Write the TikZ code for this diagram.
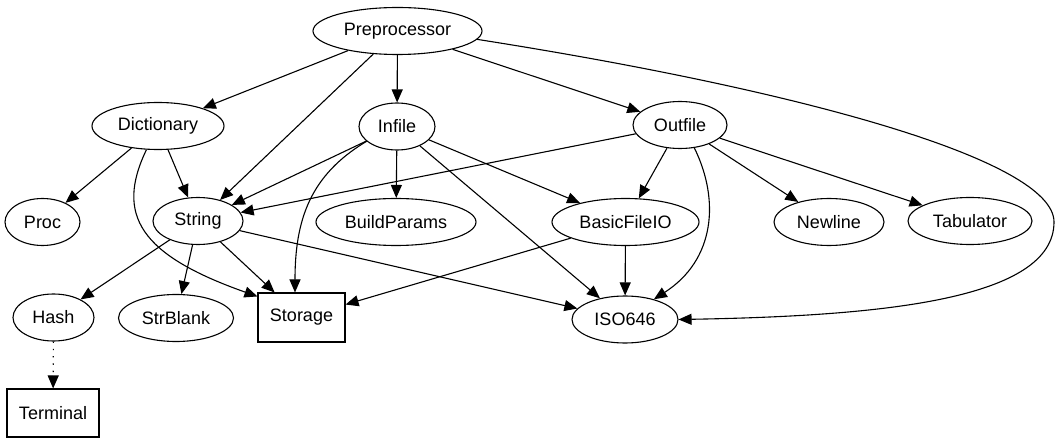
\documentclass[tikz,border=0pt]{standalone}
\usepackage{fontspec}
\setmainfont{Liberation Sans}
\usetikzlibrary{shapes,arrows.meta,positioning,calc}

\begin{document}
\begin{tikzpicture}[x=1pt,y=1pt,
	oval/.style={draw,ellipse,line width=1.1pt,minimum height=47pt,inner sep=0pt,font=\fontsize{18}{21}\selectfont},
	box/.style={draw,rectangle,line width=1.1pt,inner sep=0pt,font=\fontsize{18}{21}\selectfont},
	dep/.style={line width=1.1pt,-{Triangle[length=13pt,width=11pt]}}]
	\useasboundingbox (0,0) rectangle (1059,-443);
	\node[oval,minimum width=169pt] (pre) at (397.5,-31) {Preprocessor};
	\node[oval,minimum width=132pt] (dict) at (158,-126) {Dictionary};
	\node[oval,minimum width=76pt] (infile) at (397,-126.5) {Infile};
	\node[oval,minimum width=94pt] (outfile) at (680,-125) {Outfile};
	\node[oval,minimum width=75pt] (proc) at (42.5,-222) {Proc};
	\node[oval,minimum width=90pt] (string) at (198,-221) {String};
	\node[oval,minimum width=160pt] (build) at (396,-222) {BuildParams};
	\node[oval,minimum width=147pt] (basic) at (625.5,-222) {BasicFileIO};
	\node[oval,minimum width=110pt] (newline) at (829,-222) {Newline};
	\node[oval,minimum width=124pt] (tab) at (970,-221) {Tabulator};
	\node[oval,minimum width=81pt] (hash) at (53.5,-317.5) {Hash};
	\node[oval,minimum width=115pt] (strblank) at (176,-318) {StrBlank};
	\node[box,minimum width=87pt,minimum height=49pt] (storage) at (301.5,-317.5) {Storage};
	\node[oval,minimum width=106pt] (iso) at (625,-319.5) {ISO646};
	\node[box,minimum width=92pt,minimum height=48pt] (terminal) at (53,-413) {Terminal};
	\draw[dep] (pre) -- (dict);
	\draw[dep] (pre) -- (string);
	\draw[dep] (pre) -- (infile);
	\draw[dep] (pre) -- (outfile);
	\draw[dep] (pre.-6) .. controls (800,-90) and (1054,-160) .. (1054,-222) .. controls (1054,-300) and (880,-316) .. (iso.east);
	\draw[dep] (dict) -- (proc);
	\draw[dep] (dict) -- (string);
	\draw[dep] (dict.244) .. controls (115,-215) and (140,-255) .. ([yshift=-4pt]storage.north west);
	\draw[dep] (infile) -- (string);
	\draw[dep] (infile.206) .. controls (310,-175) and (295,-220) .. ([xshift=-6.5pt]storage.north);
	\draw[dep] (infile) -- (build);
	\draw[dep] (infile) -- (basic);
	\draw[dep] (infile) -- (iso);
	\draw[dep] (outfile) -- (string);
	\draw[dep] (outfile) -- (basic);
	\draw[dep] (outfile.-58) .. controls (720,-200) and (715,-260) .. (iso.35);
	\draw[dep] (outfile) -- (newline);
	\draw[dep] (outfile) -- (tab);
	\draw[dep] (string) -- (hash);
	\draw[dep] (string) -- (strblank);
	\draw[dep] (string) -- (storage);
	\draw[dep] (string) -- (iso);
	\draw[dep] (basic) -- (storage);
	\draw[dep] (basic) -- (iso);
	\draw[dep,dash pattern=on 1.3pt off 6pt] (hash) -- (terminal);
\end{tikzpicture}
\end{document}
